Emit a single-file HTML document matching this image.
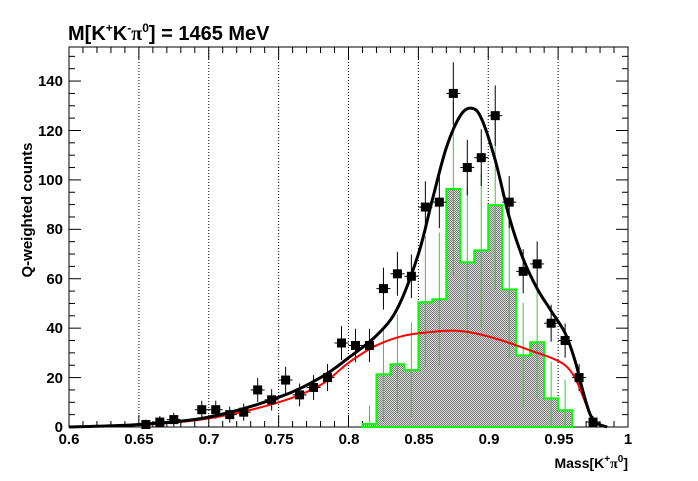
<!DOCTYPE html><html><head><style>body{margin:0;background:#fff}svg{font-family:"Liberation Sans",sans-serif;font-weight:bold}</style></head><body>
<svg id="s" width="698" height="476" xmlns="http://www.w3.org/2000/svg">
<defs><pattern id="hp" width="2" height="2" patternUnits="userSpaceOnUse"><rect width="2" height="2" fill="#ddd"/><rect width="1" height="1" fill="#777"/><rect x="1" y="1" width="1" height="1" fill="#777"/></pattern></defs>
<rect x="69" y="47" width="559" height="380" fill="none" stroke="#000" stroke-width="1"/>
<text x="68" y="40" font-size="20">M[K<tspan font-size="12" dy="-8">+</tspan><tspan dy="8">K</tspan><tspan font-size="12" dy="-8">-</tspan><tspan dy="8" font-family="Liberation Serif,serif">π</tspan><tspan font-size="12" dy="-8">0</tspan><tspan dy="8">] = 1465 MeV</tspan></text>
<g font-size="15" text-anchor="end">
<text x="63" y="432">0</text><text x="63" y="383">20</text><text x="63" y="333">40</text><text x="63" y="284">60</text><text x="63" y="234">80</text><text x="63" y="185">100</text><text x="63" y="136">120</text><text x="63" y="86">140</text></g>
<g font-size="15" text-anchor="middle">
<text x="69" y="444">0.6</text><text x="139" y="444">0.65</text><text x="209" y="444">0.7</text><text x="279" y="444">0.75</text><text x="349" y="444">0.8</text><text x="419" y="444">0.85</text><text x="489" y="444">0.9</text><text x="559" y="444">0.95</text><text x="628" y="444">1</text></g>
<text x="628" y="468" font-size="14" text-anchor="end">Mass[K<tspan font-size="10" dy="-6">+</tspan><tspan dy="6" font-family="Liberation Serif,serif">π</tspan><tspan font-size="10" dy="-6">0</tspan><tspan dy="6">]</tspan></text>
<text transform="translate(32,210) rotate(-90)" font-size="15" text-anchor="middle">Q-weighted counts</text>
<g id="g"></g>
</svg>
<script>
var g=document.getElementById('g'),h='';
function X(v){return 69+(v-0.6)*1397.5}function Y(v){return 427-v*2.471}
for(var i=1;i<8;i++){var x=X(0.6+i*0.05);h+='<line x1="'+x+'" y1="47" x2="'+x+'" y2="427" stroke="#000" stroke-dasharray="1,2"/>';}
for(var v=0;v<=150;v+=5){var y=Y(v);if(y<47)break;h+='<line x1="69" y1="'+y+'" x2="'+(v%20==0?81:75)+'" y2="'+y+'" stroke="#000"/><line x1="628" y1="'+y+'" x2="'+(v%20==0?616:622)+'" y2="'+y+'" stroke="#000"/>';}
for(var i=0;i<=40;i++){var x=X(0.6+i*0.01),L=i%5==0?12:6;h+='<line x1="'+x+'" y1="427" x2="'+x+'" y2="'+(427-L)+'" stroke="#000"/><line x1="'+x+'" y1="47" x2="'+x+'" y2="'+(47+L)+'" stroke="#000"/>';}
var hv=[1.2,21.3,25.4,23,50.5,51.7,96.3,66.6,71.5,89.8,55.7,29,34.3,11.6,6.8];
var p='M'+X(0.81)+' '+Y(0);hv.forEach(function(v,k){p+=' L'+X(0.81+k*0.01)+' '+Y(v)+' L'+X(0.82+k*0.01)+' '+Y(v);});p+=' L'+X(0.96)+' '+Y(0)+'Z';
h+='<path d="'+p+'" fill="url(#hp)" stroke="#0f0" stroke-width="2"/>';
hv.forEach(function(v,k){var x=X(0.815+k*0.01),e=Math.sqrt(v)*3.2+4;h+='<line x1="'+x+'" y1="'+Y(Math.max(0,v-e))+'" x2="'+x+'" y2="'+Y(v+e)+'" stroke="#3c3" stroke-width="1"/>';});
function curve(pts,c){var d='M'+X(pts[0][0])+' '+Y(pts[0][1]);for(var i=0;i<pts.length-1;i++){var p0=pts[Math.max(0,i-1)],p1=pts[i],p2=pts[i+1],p3=pts[Math.min(pts.length-1,i+2)];
var a=[X(p1[0])+(X(p2[0])-X(p0[0]))/6,Y(p1[1])+(Y(p2[1])-Y(p0[1]))/6],b=[X(p2[0])-(X(p3[0])-X(p1[0]))/6,Y(p2[1])-(Y(p3[1])-Y(p1[1]))/6];d+=' C'+a[0]+' '+a[1]+' '+b[0]+' '+b[1]+' '+X(p2[0])+' '+Y(p2[1]);}
return '<path d="'+d+'" fill="none" stroke="'+c+'" stroke-width="'+(c=='#000'?3:2)+'" stroke-linejoin="round"/>';}
var red=[[0.6,0],[0.65,0.8],[0.7,3.5],[0.75,10],[0.78,17],[0.8,26],[0.82,33],[0.84,37],[0.86,38.5],[0.875,39],[0.89,38],[0.91,35],[0.93,31],[0.945,28],[0.955,25],[0.962,20],[0.968,12],[0.973,5],[0.978,1.5],[0.985,0]];
var blk=[[0.6,0],[0.65,1],[0.7,4],[0.75,12],[0.78,20],[0.8,28],[0.82,37],[0.835,48],[0.85,70],[0.86,92],[0.87,113],[0.88,126],[0.888,129],[0.895,125],[0.905,108],[0.915,85],[0.925,68],[0.935,56],[0.945,47],[0.955,38],[0.962,27],[0.968,14],[0.973,5],[0.978,1.5],[0.985,0]];
var d=[[0.655,1],[0.665,2],[0.675,3],[0.695,7],[0.705,7],[0.715,5],[0.725,6],[0.735,15],[0.745,11],[0.755,19],[0.765,13],[0.775,16],[0.785,20],[0.795,34],[0.805,33],[0.815,33],[0.825,56],[0.835,62],[0.845,61],[0.855,89],[0.865,91],[0.875,135],[0.885,105],[0.895,109],[0.905,126],[0.915,91],[0.925,63],[0.935,66],[0.945,42],[0.955,35],[0.965,20],[0.975,2]];
d.forEach(function(q){var x=X(q[0]),y=Y(q[1]),e=Math.sqrt(q[1])+1;h+='<line x1="'+(x-7)+'" y1="'+y+'" x2="'+(x+7)+'" y2="'+y+'" stroke="#000"/><line x1="'+x+'" y1="'+Y(Math.max(0,q[1]-e))+'" x2="'+x+'" y2="'+Y(q[1]+e)+'" stroke="#000"/>';});
h+=curve(red,'#f00')+curve(blk,'#000');
d.forEach(function(q){var x=X(q[0]),y=Y(q[1]);h+='<rect x="'+(x-4.5)+'" y="'+(y-4.5)+'" width="9" height="9" fill="#000"/>';});
g.innerHTML=h;
</script></body></html>
